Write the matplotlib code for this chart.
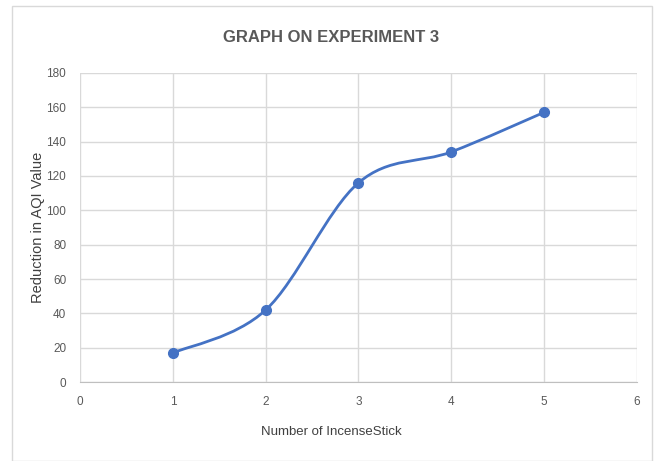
import matplotlib
matplotlib.use("Agg")
import matplotlib.pyplot as plt
from matplotlib.path import Path
from matplotlib.patches import PathPatch, Rectangle
import numpy as np

x_vals = [1, 2, 3, 4, 5]
y_vals = [17, 42, 116, 134, 157]
x_ticks = [0, 1, 2, 3, 4, 5, 6]
y_ticks = [0, 20, 40, 60, 80, 100, 120, 140, 160, 180]
title = "GRAPH ON EXPERIMENT 3"
xlabel = "Number of IncenseStick"
ylabel = "Reduction in AQI Value"

fam = ["Liberation Sans Narrow", "Liberation Sans", "DejaVu Sans"]
plt.rcParams["font.family"] = fam

fig = plt.figure(figsize=(6.62, 4.61), dpi=100)
ax = fig.add_axes([0.121, 0.171, 0.841, 0.671])

# outer chart border
fig.patches.append(Rectangle((12/662, 0.0), 640/662, 1 - 6/461, transform=fig.transFigure,
                             fill=False, edgecolor="#d9d9d9", linewidth=1.0))

blue = "#4472C4"
# Excel-style smoothed line (Catmull-Rom bezier)
xs = np.array(x_vals, float)
ys = np.array(y_vals, float)
verts = [(xs[0], ys[0])]
codes = [Path.MOVETO]
n = len(xs)
for i in range(n - 1):
    p0 = np.array([xs[max(i - 1, 0)], ys[max(i - 1, 0)]])
    p1 = np.array([xs[i], ys[i]])
    p2 = np.array([xs[i + 1], ys[i + 1]])
    p3 = np.array([xs[min(i + 2, n - 1)], ys[min(i + 2, n - 1)]])
    c1 = p1 + (p2 - p0) / 6.0
    c2 = p2 - (p3 - p1) / 6.0
    verts += [tuple(c1), tuple(c2), tuple(p2)]
    codes += [Path.CURVE4] * 3
ax.add_patch(PathPatch(Path(verts, codes), facecolor="none", edgecolor=blue, linewidth=2.0, zorder=3))
ax.plot(x_vals, y_vals, linestyle="none", marker="o", markersize=7, color=blue, zorder=4)

ax.set_xlim(0, 6)
ax.set_ylim(0, 180)
ax.set_xticks(x_ticks)
ax.set_yticks(y_ticks)
ax.grid(True, color="#d9d9d9", linewidth=1.0)
ax.set_axisbelow(True)
for s in ["top", "right", "left"]:
    ax.spines[s].set_visible(False)
ax.spines["bottom"].set_color("#bfbfbf")
ax.tick_params(length=0, colors="#595959", labelsize=8.5)
ax.tick_params(axis="x", pad=10)
ax.tick_params(axis="y", pad=10)

fig.text(0.5, 1 - 37/461, title, ha="center", va="center", fontsize=12, fontweight="bold",
         color="#595959")
fig.text(0.5, 1 - 432/461, xlabel, ha="center", va="center", fontsize=9.5, color="#404040")
fig.text(38/662, 1 - 227/461, ylabel, ha="center", va="center", rotation=90, fontsize=10.5,
         color="#404040")

fig.savefig("out.png", dpi=100)
